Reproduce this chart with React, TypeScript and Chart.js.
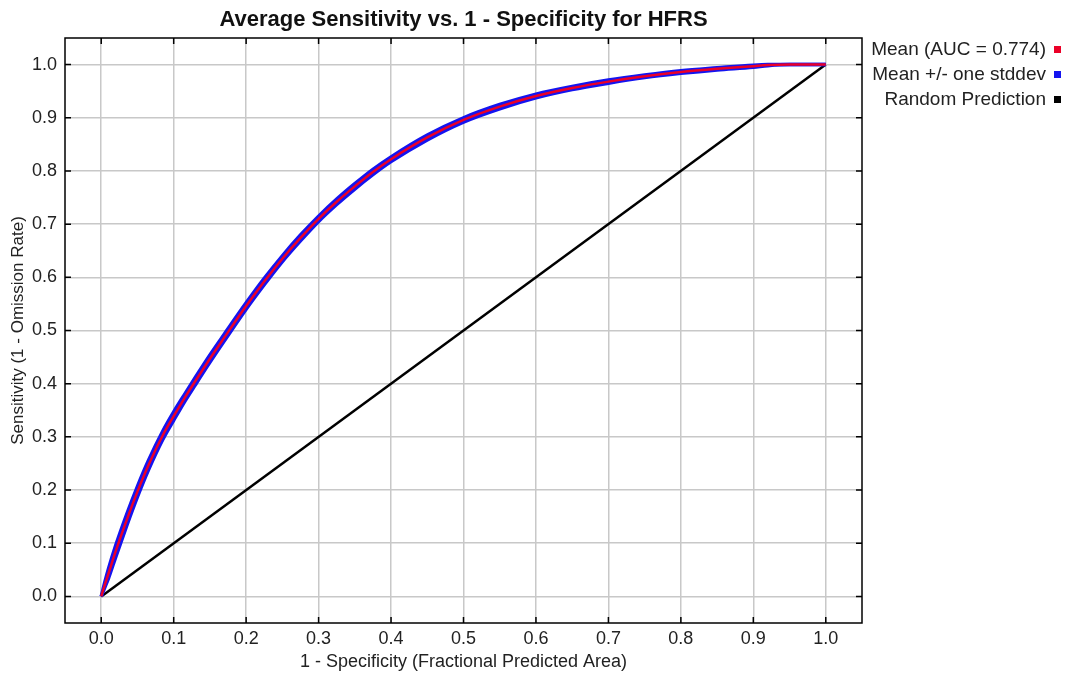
import React, { useEffect, useRef } from "react";
import { Chart, registerables } from "chart.js";

Chart.register(...registerables);

const chartTitle = "Average Sensitivity vs. 1 - Specificity for HFRS";
const xAxisTitle = "1 - Specificity (Fractional Predicted Area)";
const yAxisTitle = "Sensitivity (1 - Omission Rate)";

const specificity = [0, 0.005, 0.01, 0.02, 0.035, 0.05, 0.065, 0.085, 0.1, 0.115, 0.13, 0.15, 0.17, 0.2, 0.225, 0.25, 0.275, 0.3, 0.325, 0.35, 0.375, 0.4, 0.45, 0.5, 0.55, 0.6, 0.65, 0.7, 0.75, 0.8, 0.85, 0.9, 0.92, 0.95, 1.0];
const meanSens = [0, 0.022, 0.043, 0.085, 0.143, 0.197, 0.246, 0.303, 0.339, 0.373, 0.405, 0.447, 0.487, 0.546, 0.592, 0.635, 0.674, 0.71, 0.742, 0.771, 0.798, 0.822, 0.863, 0.896, 0.921, 0.941, 0.956, 0.968, 0.978, 0.986, 0.992, 0.997, 0.999, 1.0, 1.0];
const upperSens = [0, 0.027, 0.052, 0.096, 0.154, 0.207, 0.255, 0.311, 0.347, 0.38, 0.412, 0.454, 0.4935, 0.552, 0.598, 0.6405, 0.6795, 0.715, 0.747, 0.776, 0.803, 0.8265, 0.8675, 0.9, 0.925, 0.9445, 0.959, 0.971, 0.9805, 0.9885, 0.994, 0.999, 1.0, 1.0, 1.0];
const lowerSens = [0, 0.017, 0.034, 0.074, 0.132, 0.187, 0.237, 0.295, 0.331, 0.366, 0.398, 0.44, 0.4805, 0.54, 0.586, 0.6295, 0.6685, 0.705, 0.737, 0.766, 0.793, 0.8175, 0.8585, 0.892, 0.917, 0.9375, 0.953, 0.965, 0.9755, 0.9835, 0.99, 0.995, 0.998, 1.0, 1.0];
const randomX = [0, 1];
const randomY = [0, 1];

const xTicks = [0, 0.1, 0.2, 0.3, 0.4, 0.5, 0.6, 0.7, 0.8, 0.9, 1.0];
const yTicks = [0, 0.1, 0.2, 0.3, 0.4, 0.5, 0.6, 0.7, 0.8, 0.9, 1.0];

const legendLabels = ["Mean (AUC = 0.774)", "Mean +/- one stddev", "Random Prediction"];
const RED = "rgb(235,0,40)";
const BLUE = "rgb(20,20,240)";
const BLACK = "#000";
const legendColors = [RED, BLUE, BLACK];

const FONT = '"Liberation Sans", Arial, sans-serif';

const toPts = (xs: number[], ys: number[]) => xs.map((x, i) => ({ x, y: ys[i] }));

const framePlugin = {
  id: "frame",
  afterDraw(chart: any) {
    const { ctx, chartArea: a, scales } = chart;
    ctx.save();
    ctx.strokeStyle = "#000";
    ctx.lineWidth = 1.5;
    ctx.strokeRect(a.left, a.top, a.right - a.left, a.bottom - a.top);
    const L = 6;
    ctx.beginPath();
    xTicks.forEach((v) => {
      const px = scales.x.getPixelForValue(v);
      ctx.moveTo(px, a.bottom);
      ctx.lineTo(px, a.bottom - L);
      ctx.moveTo(px, a.top);
      ctx.lineTo(px, a.top + L);
    });
    yTicks.forEach((v) => {
      const py = scales.y.getPixelForValue(v);
      ctx.moveTo(a.left, py);
      ctx.lineTo(a.left + L, py);
      ctx.moveTo(a.right, py);
      ctx.lineTo(a.right - L, py);
    });
    ctx.stroke();

    ctx.fillStyle = "#111";
    ctx.textBaseline = "middle";
    ctx.textAlign = "center";
    ctx.font = `bold 22px ${FONT}`;
    ctx.fillText(chartTitle, (a.left + a.right) / 2, 20);

    ctx.font = `18px ${FONT}`;
    ctx.fillStyle = "#222";
    ctx.fillText(xAxisTitle, (a.left + a.right) / 2, 662);

    ctx.save();
    ctx.font = `17px ${FONT}`;
    ctx.translate(18, (a.top + a.bottom) / 2);
    ctx.rotate(-Math.PI / 2);
    ctx.fillText(yAxisTitle, 0, 0);
    ctx.restore();

    ctx.font = `19px ${FONT}`;
    ctx.textAlign = "right";
    legendLabels.forEach((t, i) => {
      const cy = 50 + i * 25;
      ctx.fillStyle = "#222";
      ctx.fillText(t, 1046, cy);
      ctx.fillStyle = legendColors[i];
      ctx.fillRect(1054, cy - 4, 7, 7);
    });
    ctx.restore();
  },
};

export default function App() {
  const ref = useRef<HTMLCanvasElement | null>(null);
  useEffect(() => {
    if (!ref.current) return;
    const tickFont = { family: FONT, size: 18 };
    const common = { showLine: true, pointRadius: 0, cubicInterpolationMode: "monotone" };
    const chart = new Chart(ref.current, {
      type: "scatter",
      data: {
        datasets: [
          { ...common, label: legendLabels[0], data: toPts(specificity, meanSens), borderColor: RED, borderWidth: 2.5, order: 0 },
          { ...common, label: "Mean + stddev", data: toPts(specificity, upperSens), borderColor: BLUE, borderWidth: 3.5, order: 1 },
          { ...common, label: "Mean - stddev", data: toPts(specificity, lowerSens), borderColor: BLUE, borderWidth: 3.5, order: 1 },
          { showLine: true, pointRadius: 0, label: legendLabels[2], data: toPts(randomX, randomY), borderColor: BLACK, borderWidth: 2.5, order: 2 },
        ],
      } as any,
      options: {
        animation: false,
        responsive: true,
        maintainAspectRatio: false,
        layout: { padding: { left: 0, top: 38, right: 204, bottom: 0 } },
        plugins: { legend: { display: false }, title: { display: false }, tooltip: { enabled: false } },
        scales: {
          x: {
            type: "linear",
            min: -0.05,
            max: 1.05,
            afterBuildTicks: (s: any) => {
              s.ticks = xTicks.map((v) => ({ value: v }));
            },
            afterFit: (s: any) => {
              s.height = 54;
            },
            grid: { color: "#c8c8c8", lineWidth: 1.5, drawTicks: false },
            border: { display: false },
            ticks: {
              padding: 5,
              color: "#222",
              font: tickFont,
              maxRotation: 0,
              autoSkip: false,
              callback: (v: any) => Number(v).toFixed(1),
            },
          },
          y: {
            type: "linear",
            min: -0.05,
            max: 1.05,
            afterBuildTicks: (s: any) => {
              s.ticks = yTicks.map((v) => ({ value: v }));
            },
            afterFit: (s: any) => {
              s.width = 65;
            },
            grid: { color: "#c8c8c8", lineWidth: 1.5, drawTicks: false },
            border: { display: false },
            ticks: {
              padding: 8,
              color: "#222",
              font: tickFont,
              autoSkip: false,
              callback: (v: any) => Number(v).toFixed(1),
            },
          },
        },
      } as any,
      plugins: [framePlugin],
    });
    return () => chart.destroy();
  }, []);
  return (
    <div style={{ position: "fixed", left: 0, top: 0, width: 1066, height: 677, background: "#fff" }}>
      <canvas ref={ref} />
    </div>
  );
}
